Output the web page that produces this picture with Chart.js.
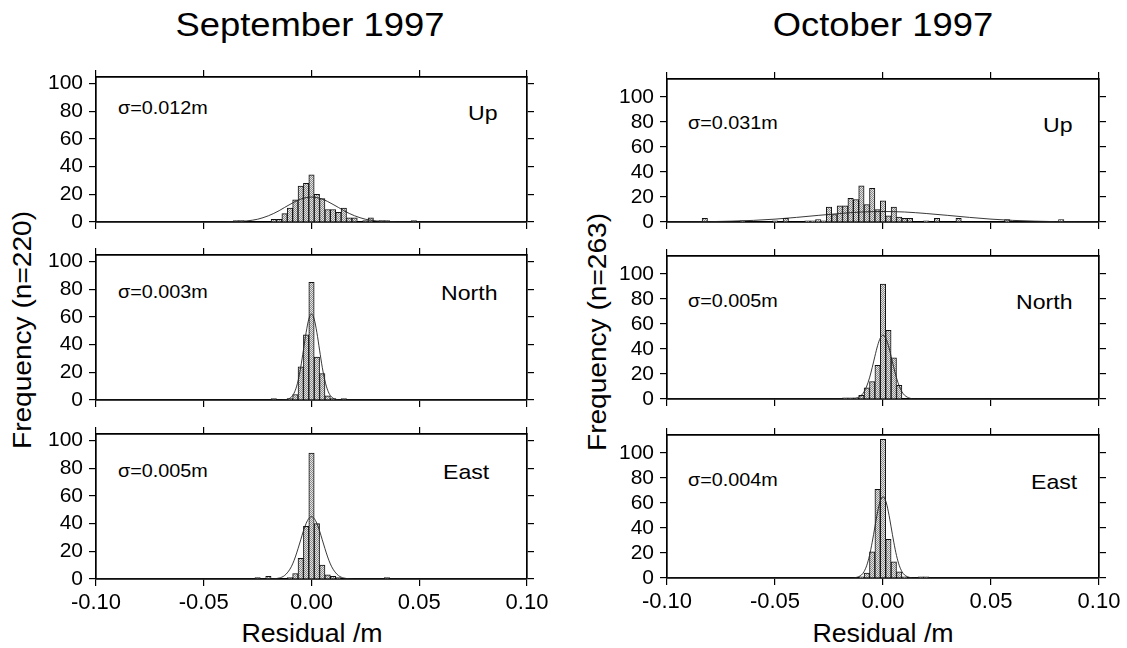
<!DOCTYPE html>
<html>
<head>
<meta charset="utf-8">
<script src="https://cdn.jsdelivr.net/npm/chart.js"></script>
<style>
  body { margin: 0; background: #fff; overflow: hidden; }
  #fig { position: relative; width: 1127px; height: 648px; font-family: "Liberation Sans", Arial, sans-serif; color: #000; }
  #fig canvas { position: absolute; }
  .t { position: absolute; white-space: nowrap; line-height: 1; }
  .c { transform: translate(-50%, -50%) scaleX(1.07); }
  .l { transform-origin: left center; transform: translateY(-50%) scaleX(1.1); }
  .v { transform: translate(-50%, -50%) rotate(-90deg) scaleX(1.08); }
</style>
</head>
<body>
<div id="fig">
  <div class="t c" style="left:310px; top:24px; font-size:34px;">September 1997</div>
  <div class="t c" style="left:883px; top:24px; font-size:34px;">October 1997</div>
  <div class="t v" style="left:22px; top:330px; font-size:26px;">Frequency (n=220)</div>
  <div class="t v" style="left:597px; top:332px; font-size:26px;">Frequency (n=263)</div>
  <div class="t c" style="left:312px; top:633px; font-size:25px;">Residual /m</div>
  <div class="t c" style="left:883px; top:633px; font-size:25px;">Residual /m</div>

  <div class="t l" style="left:118px; top:108px; font-size:18px;">σ=0.012m</div>
  <div class="t l" style="left:468px; top:112px; font-size:21px;">Up</div>
  <div class="t l" style="left:118px; top:292px; font-size:18px;">σ=0.003m</div>
  <div class="t l" style="left:441px; top:292px; font-size:21px;">North</div>
  <div class="t l" style="left:118px; top:471px; font-size:18px;">σ=0.005m</div>
  <div class="t l" style="left:443px; top:471px; font-size:21px;">East</div>

  <div class="t l" style="left:688px; top:123px; font-size:18px;">σ=0.031m</div>
  <div class="t l" style="left:1043px; top:124px; font-size:21px;">Up</div>
  <div class="t l" style="left:688px; top:301px; font-size:18px;">σ=0.005m</div>
  <div class="t l" style="left:1016px; top:301px; font-size:21px;">North</div>
  <div class="t l" style="left:688px; top:480px; font-size:18px;">σ=0.004m</div>
  <div class="t l" style="left:1031px; top:481px; font-size:21px;">East</div>
</div>
<script>
const xTickValues = [-0.1, -0.05, 0, 0.05, 0.1];
const xTickLabels = ["-0.10", "-0.05", "0.00", "0.05", "0.10"];
const yTickValues = [0, 20, 40, 60, 80, 100];
const yTickLabels = ["0", "20", "40", "60", "80", "100"];

// September 1997 (n=220), bin centres in metres, bin width 0.0025
const sepUpBins = [-0.035, -0.0325, -0.0175, -0.015, -0.0125, -0.01, -0.0075, -0.005, -0.0025, 0, 0.0025, 0.005, 0.0075, 0.01, 0.0125, 0.015, 0.0175, 0.02, 0.025, 0.0275, 0.0325, 0.035, 0.0475];
const sepUpCounts = [1, 1, 2, 2, 6, 10, 16, 26, 28, 34, 20, 17, 9, 9, 7, 10, 3, 3, 1, 3, 1, 1, 1];
const sepUpCurveX = [-0.1, -0.05, -0.04, -0.035, -0.03, -0.025, -0.02, -0.0175, -0.015, -0.0125, -0.01, -0.0075, -0.005, -0.0025, 0, 0.0025, 0.005, 0.0075, 0.01, 0.0125, 0.015, 0.0175, 0.02, 0.025, 0.03, 0.035, 0.04, 0.05, 0.1];
const sepUpCurveY = [0, 0, 0.1, 0.3, 0.8, 2.0, 4.5, 6.2, 8.2, 10.5, 12.7, 14.8, 16.5, 17.6, 18, 17.6, 16.5, 14.8, 12.7, 10.5, 8.2, 6.2, 4.5, 2.0, 0.8, 0.3, 0.1, 0, 0];

const sepNorthBins = [-0.0175, -0.01, -0.0075, -0.005, -0.0025, 0, 0.0025, 0.005, 0.0075, 0.01, 0.015];
const sepNorthCounts = [1, 1, 4, 24, 47, 85, 31, 19, 3, 1, 1];
const sepNorthCurveX = [-0.1, -0.015, -0.0125, -0.01, -0.00875, -0.0075, -0.00625, -0.005, -0.00375, -0.0025, -0.00125, 0, 0.00125, 0.0025, 0.00375, 0.005, 0.00625, 0.0075, 0.00875, 0.01, 0.0125, 0.015, 0.1];
const sepNorthCurveY = [0, 0, 0.2, 1.3, 3.2, 7.1, 13.7, 23.6, 36, 48.7, 58.4, 62, 58.4, 48.7, 36, 23.6, 13.7, 7.1, 3.2, 1.3, 0.2, 0, 0];

const sepEastBins = [-0.025, -0.02, -0.01, -0.0075, -0.005, -0.0025, 0, 0.0025, 0.005, 0.0075, 0.01, 0.0125, 0.035];
const sepEastCounts = [1, 2, 1, 4, 15, 38, 91, 40, 10, 3, 2, 1, 1];
const sepEastCurveX = [-0.1, -0.02, -0.0175, -0.015, -0.0125, -0.01, -0.00875, -0.0075, -0.00625, -0.005, -0.00375, -0.0025, -0.00125, 0, 0.00125, 0.0025, 0.00375, 0.005, 0.00625, 0.0075, 0.00875, 0.01, 0.0125, 0.015, 0.0175, 0.02, 0.1];
const sepEastCurveY = [0, 0, 0.2, 0.7, 2.5, 7.1, 10.9, 15.9, 21.9, 28.3, 34.7, 40.1, 43.7, 45, 43.7, 40.1, 34.7, 28.3, 21.9, 15.9, 10.9, 7.1, 2.5, 0.7, 0.2, 0, 0];

// October 1997 (n=263)
const octUpBins = [-0.0825, -0.065, -0.05, -0.045, -0.035, -0.0325, -0.03, -0.0275, -0.025, -0.0225, -0.02, -0.0175, -0.015, -0.0125, -0.01, -0.0075, -0.005, -0.0025, 0, 0.0025, 0.005, 0.0075, 0.01, 0.0125, 0.02, 0.025, 0.035, 0.0575, 0.0825];
const octUpCounts = [3, 1, 1, 3, 1, 1, 2, 1, 12, 6, 13, 13, 19, 18, 29, 14, 27, 10, 17, 5, 12, 4, 3, 3, 1, 3, 3, 2, 2];
const octUpCurveX = [-0.1, -0.09, -0.08, -0.07, -0.06, -0.05, -0.04, -0.03, -0.02, -0.01, 0, 0.01, 0.02, 0.03, 0.04, 0.05, 0.06, 0.07, 0.08, 0.09, 0.1];
const octUpCurveY = [0.05, 0.15, 0.3, 0.7, 1.3, 2.3, 3.7, 5.3, 6.8, 8.0, 8.4, 8.0, 6.8, 5.3, 3.7, 2.3, 1.3, 0.7, 0.3, 0.15, 0.05];

const octNorthBins = [-0.0175, -0.015, -0.0125, -0.01, -0.0075, -0.005, -0.0025, 0, 0.0025, 0.005, 0.0075];
const octNorthCounts = [1, 1, 1, 3, 9, 14, 27, 92, 55, 33, 11];
const octNorthCurveX = [-0.1, -0.015, -0.0125, -0.01, -0.00875, -0.0075, -0.00625, -0.005, -0.00375, -0.0025, -0.00125, 0, 0.00125, 0.0025, 0.00375, 0.005, 0.00625, 0.0075, 0.00875, 0.01, 0.0125, 0.015, 0.1];
const octNorthCurveY = [0, 0.1, 0.6, 3.0, 5.8, 10.4, 16.9, 25.1, 34.2, 42.7, 48.8, 51, 48.8, 42.7, 34.2, 25.1, 16.9, 10.4, 5.8, 3.0, 0.6, 0.1, 0];

const octEastBins = [-0.01, -0.0075, -0.005, -0.0025, 0, 0.0025, 0.005, 0.0075, 0.01, 0.0175, 0.02];
const octEastCounts = [1, 4, 21, 71, 111, 31, 13, 5, 1, 1, 1];
const octEastCurveX = [-0.1, -0.015, -0.0125, -0.01, -0.00875, -0.0075, -0.00625, -0.005, -0.00375, -0.0025, -0.00125, 0, 0.00125, 0.0025, 0.00375, 0.005, 0.00625, 0.0075, 0.00875, 0.01, 0.0125, 0.015, 0.1];
const octEastCurveY = [0, 0, 0.4, 2.4, 5.2, 10.2, 18, 28.6, 40.9, 52.9, 61.7, 65, 61.7, 52.9, 40.9, 28.6, 18, 10.2, 5.2, 2.4, 0.4, 0, 0];

const FONT = "'Liberation Sans', Arial, sans-serif";

function makeHatch(ctx) {
  const pc = document.createElement("canvas");
  pc.width = 2;
  pc.height = 2;
  const p = pc.getContext("2d");
  p.fillStyle = "#e4e4e4";
  p.fillRect(0, 0, 2, 2);
  p.fillStyle = "#8c8c8c";
  p.fillRect(0, 0, 1, 1);
  p.fillRect(1, 1, 1, 1);
  return ctx.createPattern(pc, "repeat");
}

function fixSize(scale, size) {
  if (scale.isHorizontal()) scale.height = size;
  else scale.width = size;
  scale.paddingTop = 0;
  scale.paddingBottom = 0;
  scale.paddingLeft = 0;
  scale.paddingRight = 0;
}

function makePanel(frame, yMax, bins, counts, curveX, curveY, withXLabels) {
  const ML = 70, MR = 28, MT = 12;
  const MB = withXLabels ? 45 : 12;
  const canvas = document.createElement("canvas");
  canvas.width = frame.w + ML + MR;
  canvas.height = frame.h + MT + MB;
  canvas.style.left = frame.x - ML + "px";
  canvas.style.top = frame.y - MT + "px";
  document.getElementById("fig").appendChild(canvas);
  const ctx = canvas.getContext("2d");

  const grid = { display: true, offset: false, drawOnChartArea: false, drawTicks: true, tickLength: 7, color: "#000", lineWidth: 1.2 };
  const border = { display: true, color: "#000", width: 1.7 };
  const xAxis = (position, size, labels) => ({
    type: "linear",
    position: position,
    min: -0.1,
    max: 0.1,
    offset: false,
    afterBuildTicks: (s) => { s.ticks = xTickValues.map((v) => ({ value: v })); },
    afterFit: (s) => fixSize(s, size),
    ticks: {
      display: labels, color: "#000", padding: 4, maxRotation: 0, autoSkip: false,
      font: { family: FONT, size: 22 },
      callback: (v, i) => xTickLabels[i],
    },
    grid: grid,
    border: border,
  });
  const yAxis = (position, size, labels) => ({
    type: "linear",
    position: position,
    min: 0,
    max: yMax,
    afterBuildTicks: (s) => { s.ticks = yTickValues.map((v) => ({ value: v })); },
    afterFit: (s) => fixSize(s, size),
    ticks: {
      display: labels, color: "#000", padding: 6, autoSkip: false,
      font: { family: FONT, size: 21 },
      callback: (v, i) => yTickLabels[i],
    },
    grid: grid,
    border: border,
  });

  new Chart(ctx, {
    type: "bar",
    data: {
      datasets: [
        {
          type: "line",
          data: curveX.map((x, i) => ({ x: x, y: curveY[i] })),
          borderColor: "#222",
          borderWidth: 0.9,
          pointRadius: 0,
          cubicInterpolationMode: "monotone",
          fill: false,
          order: 1,
        },
        {
          type: "bar",
          data: bins.map((b, i) => ({ x: b, y: counts[i] })),
          backgroundColor: makeHatch(ctx),
          borderColor: "#111",
          borderWidth: 1,
          barPercentage: 1,
          categoryPercentage: 1,
          order: 2,
        },
      ],
    },
    options: {
      responsive: false,
      animation: false,
      events: [],
      layout: { padding: 0 },
      plugins: { legend: { display: false }, tooltip: { enabled: false } },
      scales: {
        x: xAxis("bottom", MB, withXLabels),
        x2: xAxis("top", MT, false),
        y: yAxis("left", ML, true),
        y2: yAxis("right", MR, false),
      },
    },
  });
}

// left column: September
makePanel({ x: 96, y: 77, w: 431, h: 145 }, 104.7, sepUpBins, sepUpCounts, sepUpCurveX, sepUpCurveY, false);
makePanel({ x: 96, y: 255, w: 431, h: 145 }, 104.7, sepNorthBins, sepNorthCounts, sepNorthCurveX, sepNorthCurveY, false);
makePanel({ x: 96, y: 434, w: 431, h: 145 }, 104.7, sepEastBins, sepEastCounts, sepEastCurveX, sepEastCurveY, true);

// right column: October
makePanel({ x: 667, y: 79, w: 432, h: 143 }, 114.4, octUpBins, octUpCounts, octUpCurveX, octUpCurveY, false);
makePanel({ x: 667, y: 256, w: 432, h: 143 }, 114.4, octNorthBins, octNorthCounts, octNorthCurveX, octNorthCurveY, false);
makePanel({ x: 667, y: 435, w: 432, h: 143 }, 114.4, octEastBins, octEastCounts, octEastCurveX, octEastCurveY, true);
</script>
</body>
</html>
